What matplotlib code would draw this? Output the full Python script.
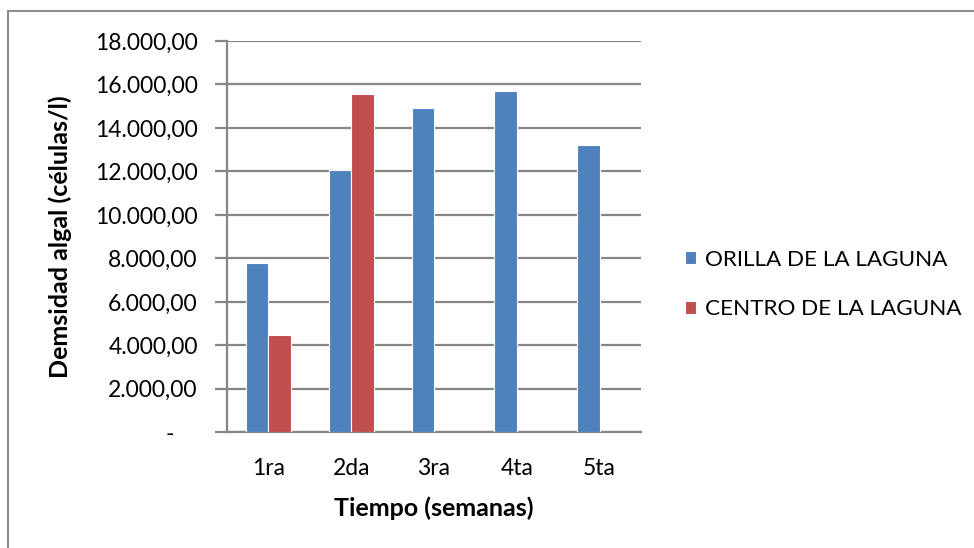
import numpy as np
import matplotlib
matplotlib.use('Agg')
import matplotlib.pyplot as plt
from matplotlib.patches import Rectangle
from matplotlib.ticker import FuncFormatter

plt.rcParams['font.family'] = ['Lato', 'DejaVu Sans']

semanas = ['1ra', '2da', '3ra', '4ta', '5ta']
orilla = [7780, 12070, 14900, 15700, 13200]
centro = [4480, 15550, np.nan, np.nan, np.nan]

azul = '#4F81BD'
rojo = '#C0504D'
gris = '#868686'

W, H = 974, 548
fig = plt.figure(figsize=(W / 100, H / 100), dpi=100)
# marco exterior del grafico (solo se ven los bordes izquierdo y superior)
fig.patches.append(Rectangle((8 / W, -0.1), 1.2, 1 - 11 / H + 0.1,
                             transform=fig.transFigure, fill=False,
                             edgecolor='#8c8c8c', linewidth=1.5))

ax = fig.add_axes([227 / W, 115.7 / H, 414 / W, 391.3 / H])

x = np.arange(len(semanas))
w = 0.27
ax.bar(x - w / 2, orilla, w, color=azul, edgecolor='white', linewidth=0.8,
       label='ORILLA DE LA LAGUNA', zorder=3)
ax.bar(x + w / 2, centro, w, color=rojo, edgecolor='white', linewidth=0.8,
       label='CENTRO DE LA LAGUNA', zorder=3)

ax.set_xlim(-0.5, len(semanas) - 0.5)
ax.set_ylim(0, 18000)
ax.set_yticks(np.arange(0, 18001, 2000))


def fmt(v, pos):
    # formato contable: miles con punto, decimales con coma, cero como guion
    if v == 0:
        return '-    '
    return f'{v:,.2f}'.replace(',', 'X').replace('.', ',').replace('X', '.')


ax.yaxis.set_major_formatter(FuncFormatter(fmt))
ax.yaxis.grid(True, color=gris, linewidth=1.6, zorder=0)
ax.set_xticks(x)
ax.set_xticklabels(semanas)

for s in ['top', 'right']:
    ax.spines[s].set_visible(False)
for s in ['left', 'bottom']:
    ax.spines[s].set_color(gris)
    ax.spines[s].set_linewidth(1.6)

ax.tick_params(axis='y', length=9, width=1.6, color=gris, labelsize=16.5,
               pad=12, labelcolor='black')
ax.tick_params(axis='x', length=0, labelsize=16.5, pad=18.5)

fig.text(60 / W, 1 - 237 / H, 'Demsidad algal (células/l)', rotation=90,
         ha='center', va='center', fontsize=18, fontweight='bold')
fig.text(434 / W, 1 - 508 / H, 'Tiempo (semanas)', ha='center', va='center',
         fontsize=18, fontweight='bold')

fig.legend(loc='center left', bbox_to_anchor=(685 / W, 1 - 284.5 / H),
           frameon=False, fontsize=16.2, handlelength=0.5, handleheight=0.5,
           labelspacing=1.3, handletextpad=0.4, borderpad=0, borderaxespad=0)

fig.savefig('out.png', dpi=100)
